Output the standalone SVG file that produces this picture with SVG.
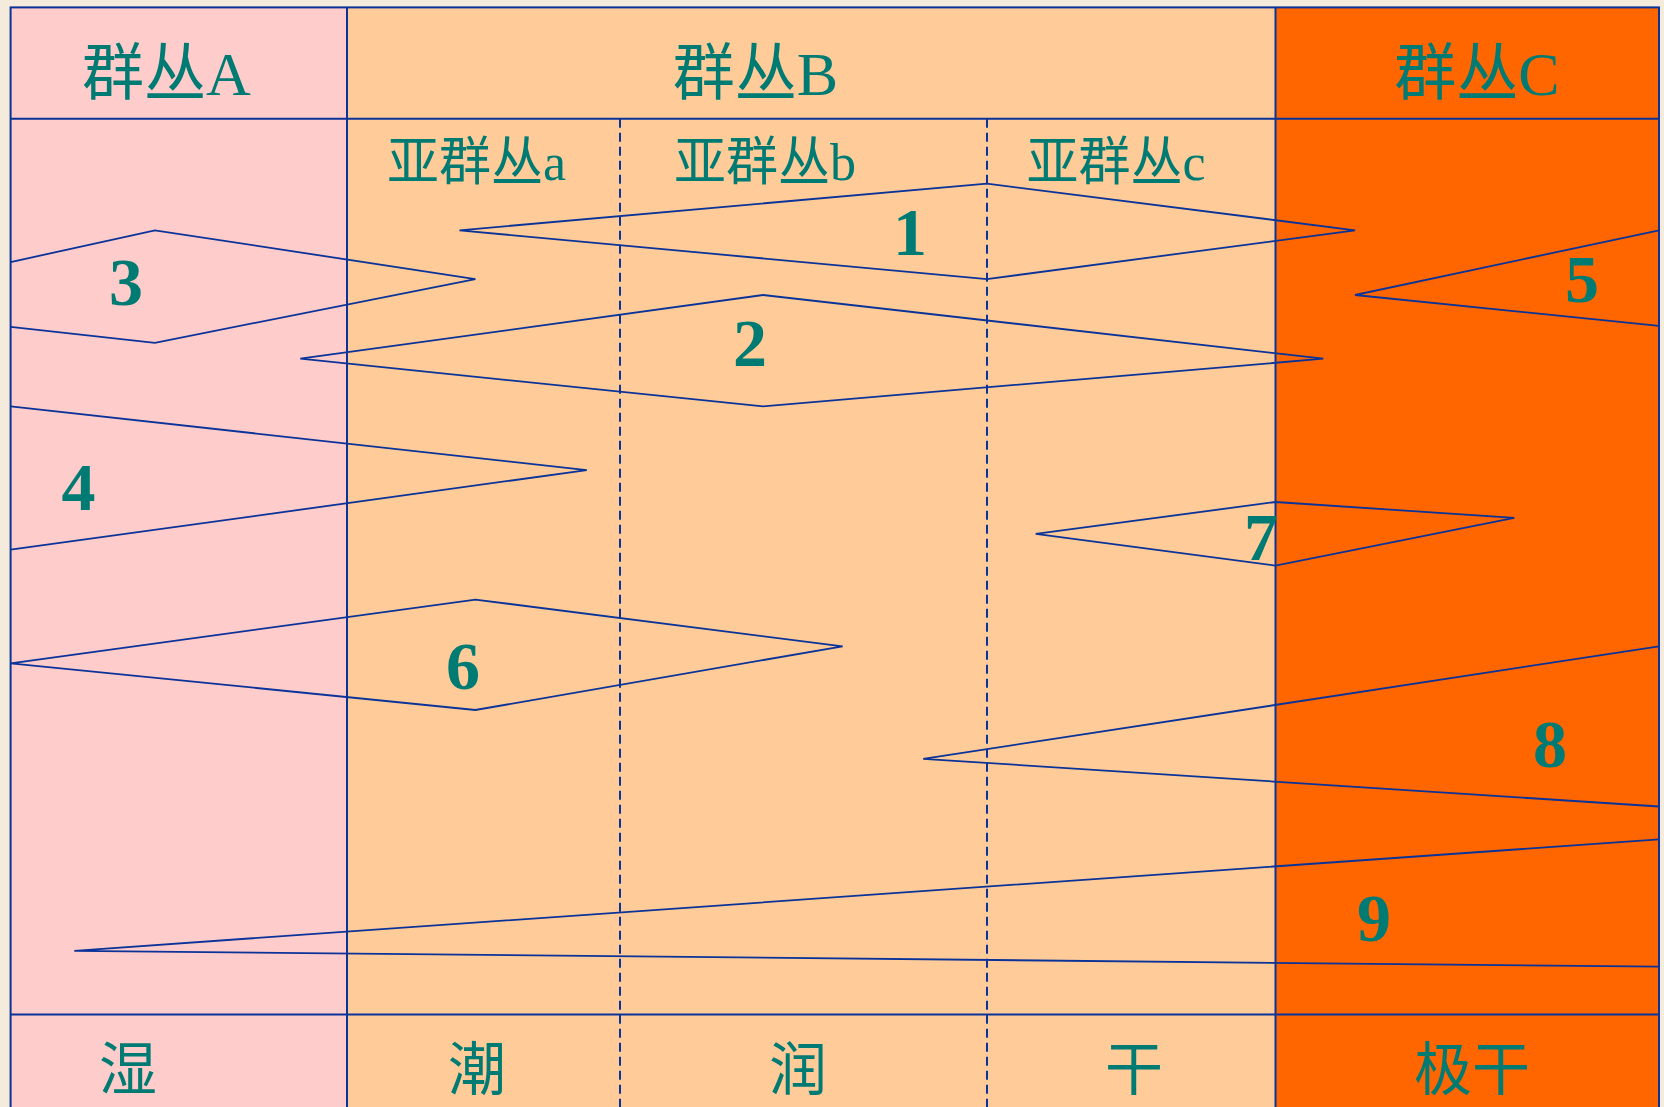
<svg xmlns="http://www.w3.org/2000/svg" width="1664" height="1107" viewBox="0 0 1664 1107">
<style>
.grid{stroke:#0a3399;stroke-width:2;fill:none}
.dash{stroke:#0a3399;stroke-width:2;stroke-dasharray:9 5;fill:none}
.poly{stroke:#0a3399;stroke-width:1.8;fill:none;stroke-linejoin:miter}
.hd{font-family:"Liberation Serif","Noto Sans CJK SC",serif;font-size:62px;fill:#007b73;text-anchor:middle}
.sub{font-family:"Liberation Serif","Noto Sans CJK SC",serif;font-size:52px;fill:#007b73;text-anchor:middle}
.ft{font-family:"Liberation Serif","Noto Sans CJK SC",serif;font-size:58px;fill:#007b73;text-anchor:middle}
.num{font-family:"Liberation Serif",serif;font-weight:bold;font-size:68px;fill:#007b73;text-anchor:middle}
</style>
<rect x="0" y="0" width="1664" height="1107" fill="#f4ebdc"/>
<g id="col-A"><rect x="10.6" y="7.4" width="336.4" height="1110" fill="#ffcccc"/></g>
<g id="col-B"><rect x="347" y="7.4" width="928.5" height="1110" fill="#ffcc99"/></g>
<g id="col-C"><rect x="1275.5" y="7.4" width="383.5" height="1110" fill="#ff6600"/></g>
<g id="grid">
<rect class="grid" x="10.6" y="7.4" width="1648.4" height="1110"/>
<line class="grid" x1="10.6" y1="118.8" x2="1659" y2="118.8"/>
<line class="grid" x1="10.6" y1="1014.5" x2="1659" y2="1014.5"/>
<line class="grid" x1="347" y1="7.4" x2="347" y2="1117"/>
<line class="grid" x1="1275.5" y1="7.4" x2="1275.5" y2="1117"/>
<line class="dash" x1="620" y1="118.8" x2="620" y2="1117"/>
<line class="dash" x1="987" y1="118.8" x2="987" y2="1117"/>
</g>
<g id="headers">
<text class="hd" x="166.5" y="95">群丛A</text>
<text class="hd" x="755.5" y="95">群丛B</text>
<text class="hd" x="1477" y="95">群丛C</text>
<text class="sub" x="476.5" y="180">亚群丛a</text>
<text class="sub" x="765" y="180">亚群丛b</text>
<text class="sub" x="1116" y="180">亚群丛c</text>
<text class="ft" x="128" y="1090">湿</text>
<text class="ft" x="477" y="1090">潮</text>
<text class="ft" x="798" y="1090">润</text>
<text class="ft" x="1134" y="1090">干</text>
<text class="ft" x="1472" y="1090">极干</text>
</g>
<g id="connectors">
<g id="n1"><polygon class="poly" points="459.5,230.3 986.9,183.6 1355.1,230.3 986.9,279.1"/><text class="num" x="910" y="255">1</text></g>
<g id="n2"><polygon class="poly" points="300.3,358.7 763,295 1323.3,358.7 763,406.4"/><text class="num" x="750" y="366">2</text></g>
<g id="n3"><polyline class="poly" points="10.6,262.1 154.9,230.3 475.4,279.1 154.9,342.8 10.6,326.8"/><text class="num" x="126" y="305">3</text></g>
<g id="n4"><polyline class="poly" points="10.6,406.4 586.8,470.1 10.6,549.7"/><text class="num" x="78.5" y="510">4</text></g>
<g id="n5"><polyline class="poly" points="1659,230.3 1355,295 1659,325.8"/><text class="num" x="1582" y="302">5</text></g>
<g id="n6"><polygon class="poly" points="10.6,663.3 475.4,599.6 842.6,646.3 475.4,710"/><text class="num" x="463" y="689">6</text></g>
<g id="n7"><polygon class="poly" points="1035.7,533.8 1275.5,502 1514.3,517.9 1275.5,565.6"/><text class="num" x="1261" y="560">7</text></g>
<g id="n8"><polyline class="poly" points="1659,646.3 923.2,758.8 1659,806.5"/><text class="num" x="1550" y="767">8</text></g>
<g id="n9"><polyline class="poly" points="1659,839.4 74.3,950.8 1659,966.7"/><text class="num" x="1374" y="941">9</text></g>
</g>
</svg>
